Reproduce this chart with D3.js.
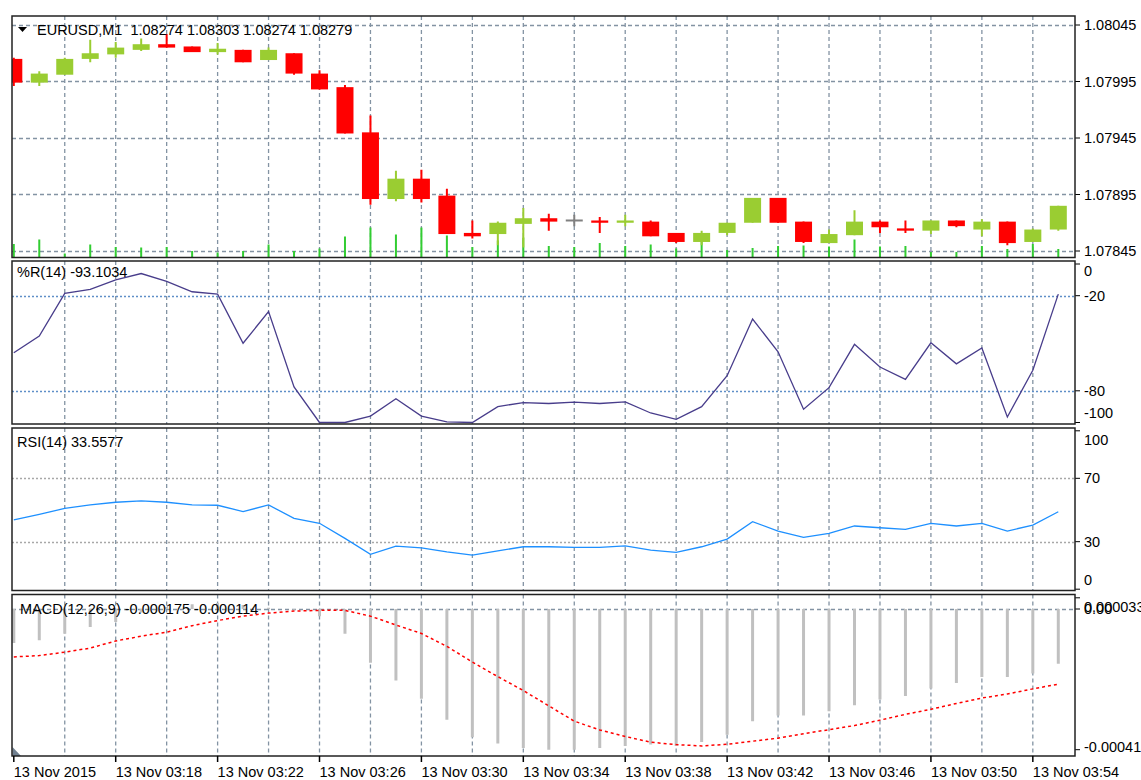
<!DOCTYPE html>
<html><head><meta charset="utf-8">
<script src="https://cdn.jsdelivr.net/npm/d3@7"></script>
<style>
body{margin:0;background:#fff;}
text{font-family:"Liberation Sans",Arial,sans-serif;font-size:14.5px;fill:#000;white-space:pre;}
</style>
</head><body><svg id="c" width="1141" height="780"></svg>
<script>
// ---------- DATA ----------
const times = ["03:14","03:15","03:16","03:17","03:18","03:19","03:20","03:21","03:22","03:23","03:24","03:25","03:26","03:27","03:28","03:29","03:30","03:31","03:32","03:33","03:34","03:35","03:36","03:37","03:38","03:39","03:40","03:41","03:42","03:43","03:44","03:45","03:46","03:47","03:48","03:49","03:50","03:51","03:52","03:53","03:54","03:55"];
const opens  = [1.08015,1.07994,1.08001,1.08015,1.08019,1.08023,1.08028,1.08026,1.08021,1.08023,1.08014,1.08020,1.08002,1.07990,1.07950,1.07891,1.07909,1.07894,1.07861,1.07860,1.07869,1.07874,1.07872,1.07872,1.07870,1.07871,1.07861,1.07853,1.07861,1.07870,1.07892,1.07871,1.07852,1.07859,1.07871,1.07865,1.07863,1.07872,1.07864,1.07871,1.07853,1.07864];
const highs  = [1.08016,1.08004,1.08016,1.08032,1.08030,1.08033,1.08037,1.08026,1.08029,1.08023,1.08025,1.08020,1.08005,1.07992,1.07965,1.07916,1.07917,1.07900,1.07872,1.07871,1.07883,1.07878,1.07877,1.07875,1.07877,1.07872,1.07861,1.07863,1.07870,1.07892,1.07892,1.07871,1.07864,1.07881,1.07872,1.07872,1.07872,1.07872,1.07873,1.07871,1.07865,1.07885];
const lows   = [1.07991,1.07991,1.08001,1.08012,1.08016,1.08022,1.08025,1.08021,1.08019,1.08012,1.08014,1.08001,1.07988,1.07949,1.07886,1.07889,1.07888,1.07860,1.07856,1.07850,1.07848,1.07863,1.07867,1.07861,1.07867,1.07858,1.07852,1.07850,1.07859,1.07870,1.07870,1.07852,1.07852,1.07859,1.07861,1.07861,1.07860,1.07866,1.07858,1.07850,1.07853,1.07863];
const closes = [1.07994,1.08002,1.08015,1.08020,1.08025,1.08028,1.08025,1.08021,1.08024,1.08012,1.08023,1.08002,1.07988,1.07949,1.07891,1.07909,1.07891,1.07860,1.07858,1.07870,1.07874,1.07871,1.07872,1.07870,1.07872,1.07858,1.07853,1.07861,1.07870,1.07892,1.07870,1.07853,1.07860,1.07871,1.07866,1.07863,1.07872,1.07867,1.07871,1.07852,1.07864,1.07885];
const volumes = [27,36,8,26,21,20,21,13,10,13,26,13,18,42,60,46,60,44,21,34,40,23,21,29,23,26,18,34,15,19,23,24,22,36,22,23,11,11,23,17,27,17];

const wprValues = [-56,-45.5,-18.5,-16,-10,-6,-11,-17.5,-19,-50,-30,-77.5,-100,-100,-96,-85,-96,-99.6,-100,-90,-87.4,-88,-87.2,-88,-87,-94,-98,-90,-70.5,-34.7,-55.4,-91.6,-78,-50.7,-65,-72.8,-49.7,-63,-53,-96.5,-67,-19];
const rsiValues = [43.7,47.3,51,53.2,54.9,55.7,54.9,53.2,53,49,53.2,44.7,41.6,32.1,22,27.2,26.1,23.6,21.5,24.2,26.8,26.8,26.4,26.4,27.4,24.7,23.2,26.8,31.6,42.6,36.7,32.7,35.2,39.9,38.8,37.8,41.6,39.9,41.6,36.7,40.5,48.9];
const macdValues = [-0.000100,-0.000092,-0.000073,-0.000053,-0.000038,-0.000010,0.000006,0.000014,0.000018,0.000012,0.000004,-0.000002,-0.000021,-0.000073,-0.000158,-0.000210,-0.000264,-0.000326,-0.000377,-0.000396,-0.000409,-0.000414,-0.000414,-0.000409,-0.000403,-0.000399,-0.000403,-0.000391,-0.000370,-0.000330,-0.000313,-0.000313,-0.000301,-0.000283,-0.000266,-0.000256,-0.000234,-0.000218,-0.000200,-0.000200,-0.000190,-0.000161];
const signalValues = [-0.000141,-0.000137,-0.000127,-0.000115,-0.000094,-0.000080,-0.000068,-0.000049,-0.000034,-0.000021,-0.000012,-0.000006,-0.000004,-0.000004,-0.000021,-0.000047,-0.000072,-0.000110,-0.000156,-0.000199,-0.000240,-0.000285,-0.000330,-0.000356,-0.000375,-0.000392,-0.000399,-0.000403,-0.000398,-0.000389,-0.000380,-0.000367,-0.000355,-0.000343,-0.000327,-0.000310,-0.000295,-0.000278,-0.000262,-0.000250,-0.000235,-0.000221];

const priceTicks = [1.08045,1.07995,1.07945,1.07895,1.07845];
const wprTicks = [0,-20,-80,-100];
const wprLevels = [-20,-80];
const rsiTicks = [100,70,30,0];
const rsiLevels = [70,30];
const macdTicks = [0.000033,0,-0.000414];
const macdTickLabels = ["0.000033","0.00","-0.000414"];
const timeTickIdx = [0,4,8,12,16,20,24,28,32,36,40];
const timeLabels = ["13 Nov 2015","13 Nov 03:18","13 Nov 03:22","13 Nov 03:26","13 Nov 03:30","13 Nov 03:34","13 Nov 03:38","13 Nov 03:42","13 Nov 03:46","13 Nov 03:50","13 Nov 03:54"];
const priceTitle = "EURUSD,M1  1.08274 1.08303 1.08274 1.08279";
const wprTitle = "%R(14) -93.1034";
const rsiTitle = "RSI(14) 33.5577";
const macdTitle = "MACD(12,26,9) -0.000175 -0.000114";

// ---------- LAYOUT ----------
const L = 12, R = 1075;
const panels = {
  price: {top:16, bottom:257.5},
  wpr:   {top:261, bottom:424},
  rsi:   {top:428, bottom:590.5},
  macd:  {top:594.5, bottom:756}
};
const svg = d3.select('#c');
const defs = svg.append('defs');
Object.entries(panels).forEach(([k,p])=>{
  defs.append('clipPath').attr('id','clip-'+k).append('rect')
    .attr('x',L).attr('y',p.top).attr('width',R-L).attr('height',p.bottom-p.top);
});

const x = d3.scalePoint().domain(times).range([13.8, 1058.3]);
const yP = d3.scaleLinear().domain([1.07845,1.08045]).range([251,25]);
const yV = d3.scaleLinear().domain([0,120]).range([257.5,197.5]);
const yW = d3.scaleLinear().domain([-100,0]).range([422.5,264]);
const yR = d3.scaleLinear().domain([0,100]).range([589.2,430.8]);
const yM = d3.scaleLinear().domain([-0.000414,0.000033]).range([749.7,597.8]);

const gridColor = '#8393a3';
const gridIdx = d3.range(2,41,2);

function vgrid(k){
  const p = panels[k];
  svg.append('g').selectAll('line').data(gridIdx).join('line')
    .attr('x1',i=>x(times[i])).attr('x2',i=>x(times[i]))
    .attr('y1',p.top).attr('y2',p.bottom)
    .attr('stroke',gridColor).attr('stroke-width',1.3).attr('stroke-dasharray','4,3');
}
function hlines(k, vals, scale, color, dash){
  svg.append('g').selectAll('line').data(vals).join('line')
    .attr('x1',L).attr('x2',R).attr('y1',d=>Math.round(scale(d))+0.5).attr('y2',d=>Math.round(scale(d))+0.5)
    .attr('stroke',color).attr('stroke-width',1.3).attr('stroke-dasharray',dash);
}
function rightAxis(vals, labels, scale, topOff, botOff){
  const g = svg.append('g');
  const dom = scale.domain();
  vals.forEach((v,i)=>{
    const y = scale(v);
    g.append('line').attr('x1',R).attr('x2',R+5).attr('y1',y).attr('y2',y).attr('stroke','#000');
    let off = 0;
    if (v===d3.max(dom)) off = topOff;
    if (v===d3.min(dom)) off = botOff;
    g.append('text').attr('x',R+9).attr('y',y+off).attr('dominant-baseline','central').text(labels[i]);
  });
}

// ---------- PRICE PANEL ----------
vgrid('price');
hlines('price', priceTicks, yP, gridColor, '4,3');
const gPrice = svg.append('g').attr('clip-path','url(#clip-price)');
const idx = d3.range(times.length);
gPrice.append('g').selectAll('line').data(idx).join('line')
  .attr('x1',i=>x(times[i])).attr('x2',i=>x(times[i]))
  .attr('y1',yV(0)).attr('y2',i=>yV(volumes[i]))
  .attr('stroke','#32CD32').attr('stroke-width',2);
const colorOf = i => closes[i]>opens[i] ? '#9ACD32' : (closes[i]<opens[i] ? '#FF0000' : '#808080');
gPrice.append('g').selectAll('line').data(idx).join('line')
  .attr('x1',i=>x(times[i])).attr('x2',i=>x(times[i]))
  .attr('y1',i=>yP(highs[i])).attr('y2',i=>yP(lows[i]))
  .attr('stroke',colorOf).attr('stroke-width',2);
const bw = 17;
gPrice.append('g').selectAll('rect').data(idx).join('rect')
  .attr('x',i=>x(times[i])-bw/2).attr('width',bw)
  .attr('y',i=>yP(Math.max(opens[i],closes[i])) - (opens[i]===closes[i]?1:0))
  .attr('height',i=>Math.max(2, Math.abs(yP(opens[i])-yP(closes[i]))))
  .attr('fill',colorOf);
rightAxis(priceTicks, priceTicks.map(d=>d.toFixed(5)), yP, 0, 0);
svg.append('path').attr('d','M18,27 L27,27 L22.5,32 Z').attr('fill','#000');
svg.append('text').attr('x',37).attr('y',30).attr('dominant-baseline','central').text(priceTitle);

// ---------- WPR PANEL ----------
vgrid('wpr');
hlines('wpr', wprLevels, yW, '#5f8fc8', '2,2');
svg.append('g').attr('clip-path','url(#clip-wpr)').append('path')
  .datum(idx).attr('fill','none').attr('stroke','#483D8B').attr('stroke-width',1.3)
  .attr('d', d3.line().x(i=>x(times[i])).y(i=>yW(wprValues[i])));
rightAxis(wprTicks, wprTicks.map(String), yW, 7, -9.5);
svg.append('text').attr('x',17).attr('y',272).attr('dominant-baseline','central').text(wprTitle);

// ---------- RSI PANEL ----------
vgrid('rsi');
hlines('rsi', rsiLevels, yR, '#a8a8a8', '2,2');
svg.append('g').attr('clip-path','url(#clip-rsi)').append('path')
  .datum(idx).attr('fill','none').attr('stroke','#1E90FF').attr('stroke-width',1.3)
  .attr('d', d3.line().x(i=>x(times[i])).y(i=>yR(rsiValues[i])));
rightAxis(rsiTicks, rsiTicks.map(String), yR, 9, -9);
svg.append('text').attr('x',17).attr('y',442).attr('dominant-baseline','central').text(rsiTitle);

// ---------- MACD PANEL ----------
vgrid('macd');
hlines('macd', [0], yM, gridColor, '4,3');
const gM = svg.append('g').attr('clip-path','url(#clip-macd)');
gM.append('g').selectAll('line').data(idx).join('line')
  .attr('x1',i=>x(times[i])).attr('x2',i=>x(times[i]))
  .attr('y1',yM(0)).attr('y2',i=>yM(macdValues[i]))
  .attr('stroke','#C0C0C0').attr('stroke-width',3);
gM.append('path').datum(idx).attr('fill','none').attr('stroke','#FF0000').attr('stroke-width',1.5)
  .attr('stroke-dasharray','3,3')
  .attr('d', d3.line().x(i=>x(times[i])).y(i=>yM(signalValues[i])));
rightAxis(macdTicks, macdTickLabels, yM, 9, -3);
svg.append('text').attr('x',20).attr('y',609).attr('dominant-baseline','central').text(macdTitle);
svg.append('path').attr('d','M12.5,747 L12.5,756 L21,756 Z').attr('fill','#708090');

// ---------- BORDERS ----------
Object.values(panels).forEach(p=>{
  svg.append('rect').attr('x',L).attr('y',p.top).attr('width',R-L).attr('height',p.bottom-p.top)
    .attr('fill','none').attr('stroke','#222').attr('stroke-width',1.5);
});

// ---------- TIME AXIS ----------
const gT = svg.append('g');
timeTickIdx.forEach((ti,k)=>{
  const xx = x(times[ti]);
  gT.append('line').attr('x1',xx).attr('x2',xx).attr('y1',756).attr('y2',762).attr('stroke','#000').attr('stroke-width',1.5);
  gT.append('text').attr('x',xx).attr('y',772).attr('dominant-baseline','central').text(timeLabels[k]);
});
</script>
</body></html>
